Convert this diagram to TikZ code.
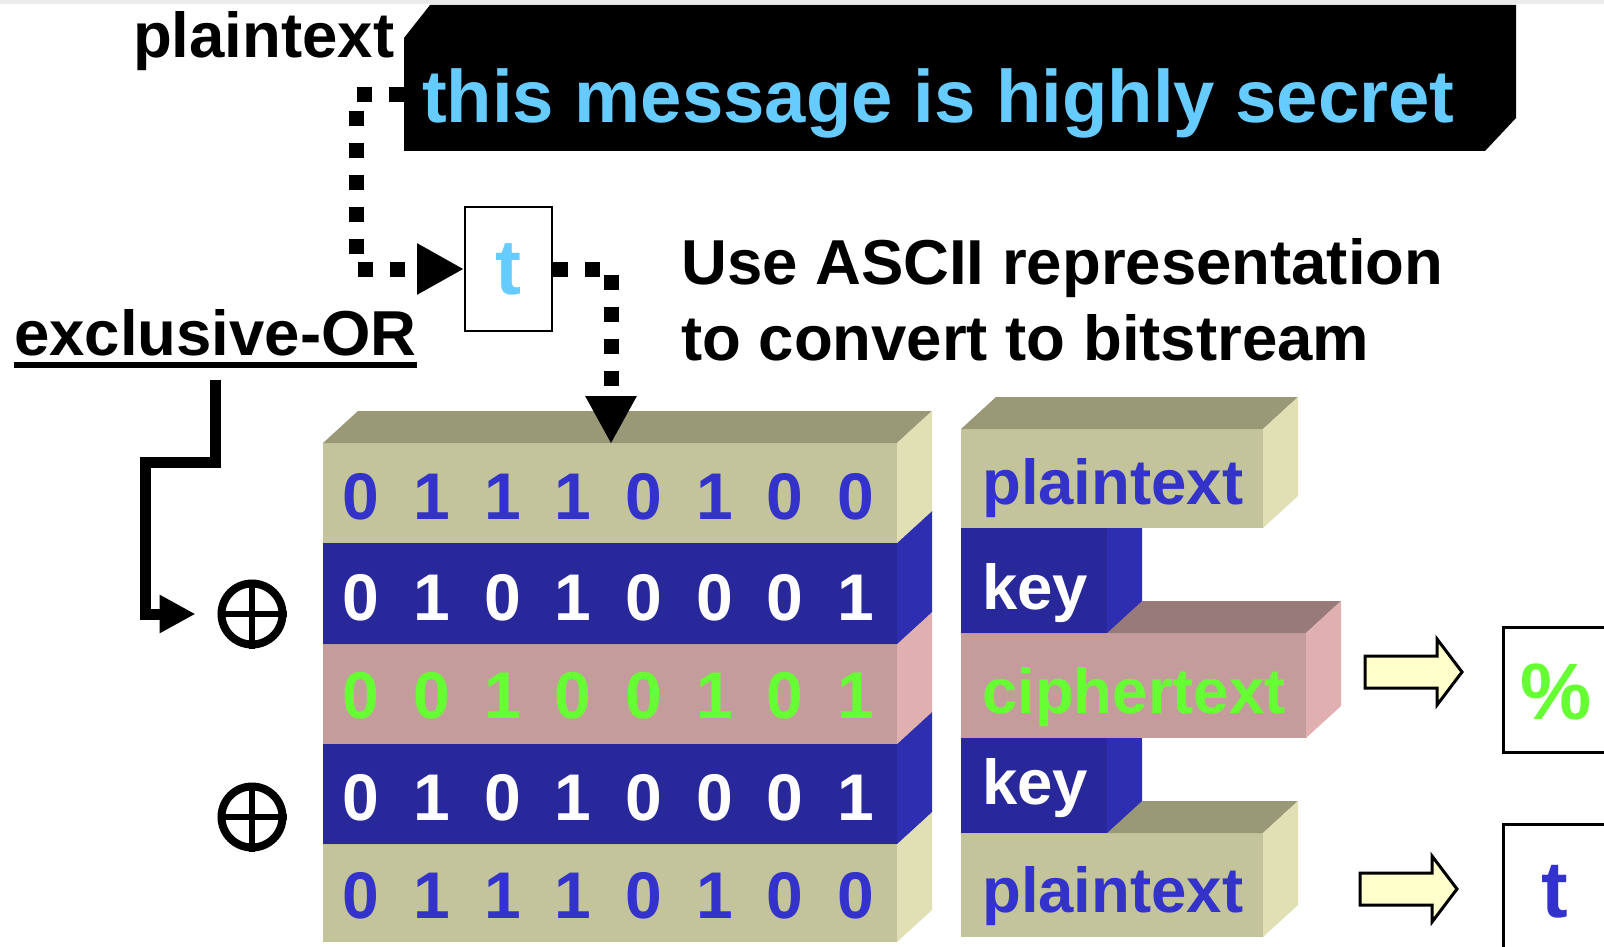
\documentclass[tikz,border=0pt]{standalone}
\usepackage{fontspec}
\setmainfont{Liberation Sans}
\usetikzlibrary{arrows.meta,calc}
\usetikzlibrary{positioning}

\definecolor{skyblue}{HTML}{66CCFF}
\definecolor{bitblue}{HTML}{3333CC}
\definecolor{bitgreen}{HTML}{66FF33}
\definecolor{arrowfill}{HTML}{FFFFCC}
\definecolor{khakifront}{HTML}{C4C49C}
\definecolor{khakitop}{HTML}{999978}
\definecolor{khakiside}{HTML}{E0E0B4}
\definecolor{keyfront}{HTML}{28289A}
\definecolor{keytop}{HTML}{222288}
\definecolor{keyside}{HTML}{2E2EB0}
\definecolor{pinkfront}{HTML}{C49C9C}
\definecolor{pinktop}{HTML}{997A7A}
\definecolor{pinkside}{HTML}{E0B0B0}

% 3d slab: left, top, right, bottom, colour stem
\newcommand{\slab}[5]{%
  \fill[#5front] (#1,#2) rectangle (#3,#4);
  \fill[#5top] (#1,#2) -- ++(35,-32) -- (#3+35,#2-32) -- (#3,#2) -- cycle;
  \fill[#5side] (#3,#2) -- ++(35,-32) -- ++(0,#4-#2) -- (#3,#4) -- cycle;
}

\begin{document}
\begin{tikzpicture}[x=1pt,y=-1pt,>=Stealth,
  lbl/.style={font=\bfseries\fontsize{63.5}{76}\selectfont,inner sep=0,anchor=base west},
  bit/.style={font=\bfseries\fontsize{66}{70}\selectfont,inner sep=0,anchor=base},
  big/.style={font=\bfseries\fontsize{80}{80}\selectfont,inner sep=0,anchor=base},
  dotline/.style={line width=15pt,dash pattern=on 15pt off 17pt},
  xorline/.style={line width=11pt,line join=miter},
  xorsym/.style={circle,draw,line width=8pt,minimum size=61pt,inner sep=0},
  fatarrow/.style={draw,line width=3pt,fill=arrowfill,line join=miter},
  outbox/.style={draw,line width=3pt,inner sep=0,anchor=north west}]
\useasboundingbox (0,0) rectangle (1604,947);
\fill[black!8] (0,0) rectangle (1604,4);

% message banner
\fill (430,5) -- (1516,5) -- (1516,118) -- (1485,151) -- (404,151) -- (404,38) -- cycle;
\node[lbl,font=\bfseries\fontsize{74.3}{80}\selectfont,text=skyblue] (msg) at (422,123) {this message is highly secret};
\coordinate (msgin) at (404,95);
\node[lbl] (ptlbl) at (133,58) {plaintext};

% first letter
\node[draw,line width=2pt,minimum width=87pt,minimum height=124pt,inner sep=0,
  text=skyblue,font=\bfseries\fontsize{78}{80}\selectfont] (tbox) at (508.5,269) {t};
\draw[dotline,-{Triangle[length=47pt,width=48pt]}] (msgin) -- (356,95) |- (tbox.west);

\node[lbl] (ascii1) at (681,284) {Use ASCII representation};
\node[lbl] (ascii2) at ([yshift=-76pt]ascii1.base west) {to convert to bitstream};

% exclusive-OR label and symbols
\node[lbl] (xorlbl) at (14,355) {exclusive-OR};
\draw[line width=6pt] ([yshift=-10pt]xorlbl.base west) -- ([yshift=-10pt]xorlbl.base east);
\node[xorsym] (xor1) at (252,614) {};
\node[xorsym] (xor2) at (252,817) {};
\foreach \s in {xor1,xor2}
  \draw[line width=6pt] (\s.north) -- (\s.south) (\s.west) -- (\s.east);
\draw[xorline,-{Triangle[length=36pt,width=36pt]}] ([yshift=-24pt]xorlbl.south) -- ++(0,83) -- ++(-70,0) |- ([xshift=-22pt]xor1.west);

% bit stack, drawn bottom up
\slab{323}{844}{897}{942}{khaki}
\slab{323}{744}{897}{844}{key}
\slab{323}{644}{897}{744}{pink}
\slab{323}{543}{897}{644}{key}
\slab{323}{443}{897}{543}{khaki}
\foreach \yb/\bits/\col [count=\r] in {519/{0,1,1,1,0,1,0,0}/bitblue,620/{0,1,0,1,0,0,0,1}/white,
    718/{0,0,1,0,0,1,0,1}/bitgreen,820/{0,1,0,1,0,0,0,1}/white,918/{0,1,1,1,0,1,0,0}/bitblue}
  \foreach \b [count=\k from 0] in \bits
    \node[bit,text=\col] (b\r\k) at (361+70.7*\k,\yb) {\b};

% letter to bits
\coordinate (bitin) at (611,444);
\draw[dotline,-{Triangle[length=48pt,width=48pt]}] (tbox.east) -| (bitin);

% legend column
\slab{961}{833}{1263}{937}{khaki}
\slab{961}{738}{1107}{833}{key}
\slab{961}{633}{1306}{738}{pink}
\slab{961}{528}{1107}{633}{key}
\slab{961}{429}{1263}{528}{khaki}
\node[lbl,text=bitblue] (leg1) at (982,504) {plaintext};
\node[lbl,text=white] (leg2) at (982,609) {key};
\node[lbl,text=bitgreen] (leg3) at (982,713) {ciphertext};
\node[lbl,text=white] (leg4) at (982,804) {key};
\node[lbl,text=bitblue] (leg5) at (982,912) {plaintext};

% results
\foreach \ax/\ay in {1365/656,1360/873}
  \draw[fatarrow] (\ax,\ay) -- ++(72,0) -- ++(0,-17) -- ++(25,33) -- ++(-25,33) -- ++(0,-17) -- ++(-72,0) -- cycle;
\node[outbox,minimum width=150pt,minimum height=125pt] (pctbox) at (1502,626) {};
\node[outbox,minimum width=150pt,minimum height=130pt] (outbox2) at (1502,823) {};
\node[big,text=bitgreen] (pct) at (1556,719) {\%};
\node[big,text=bitblue] (tout) at (1555,917) {t};
\end{tikzpicture}
\end{document}
